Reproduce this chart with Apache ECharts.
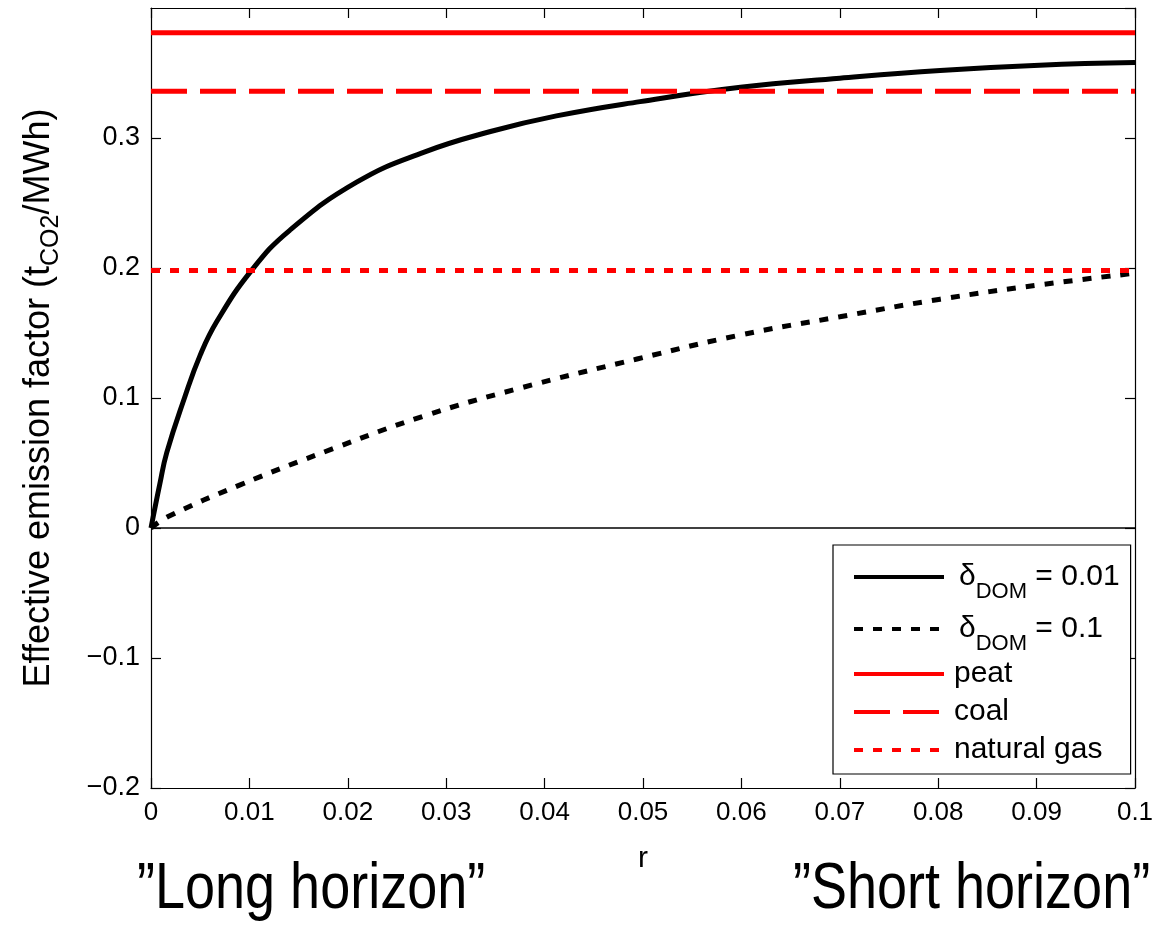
<!DOCTYPE html>
<html>
<head>
<meta charset="utf-8">
<script src="https://cdn.jsdelivr.net/npm/echarts@6/dist/echarts.min.js"></script>
<style>
    html, body {margin: 0; padding: 0; background: #fff;}
    #chart {width: 1169px; height: 932px;}
</style>
</head>
<body>
<div id="chart"></div>
<script>
    // delta_DOM = 0.01 curve
    var rLow = [0, 0.0009, 0.0016, 0.0034, 0.005, 0.0067, 0.0102, 0.0141, 0.0209, 0.0277, 0.0345, 0.0412, 0.0497, 0.0599, 0.0700, 0.0802, 0.0903, 0.1];
    var efLow = [0, 0.034, 0.058, 0.100, 0.133, 0.159, 0.198, 0.229, 0.266, 0.289, 0.305, 0.317, 0.328, 0.339, 0.346, 0.352, 0.356, 0.358];

    // delta_DOM = 0.1 curve
    var rHigh = [0, 0.0018, 0.009, 0.0185, 0.0277, 0.0372, 0.0494, 0.0599, 0.0700, 0.0802, 0.0903, 0.1];
    var efHigh = [0, 0.009, 0.033, 0.061, 0.086, 0.107, 0.130, 0.1485, 0.1625, 0.176, 0.187, 0.196];

    // reference fuels (horizontal lines)
    var fuelNames = ['peat', 'coal', 'natural gas'];
    var fuelFactors = [0.381, 0.336, 0.198];
    var rRange = [0, 0.1];

    var legendLabels = {
        dLow: '{d|\u03b4}{s|DOM}{t| = 0.01}',
        dHigh: '{d|\u03b4}{s|DOM}{t| = 0.1}'
    };

    var FONT = '"Liberation Sans", Arial, Helvetica, sans-serif';
    var RED = '#ff0000';

    function pairs(xs, ys) {
        var out = [];
        for (var i = 0; i < xs.length; i++) {
            out.push([xs[i], ys[i]]);
        }
        return out;
    }

    var myChart = echarts.init(document.getElementById('chart'));

    var fuelDash = ['solid', [36, 13], [9, 10]];
    var series = [
        {
            name: 'dLow', type: 'line', data: pairs(rLow, efLow), symbol: 'none',
            smooth: 0.45,
            lineStyle: {color: '#000', width: 5},
            itemStyle: {color: '#000'},
            markLine: {
                silent: true, symbol: 'none', label: {show: false},
                lineStyle: {color: '#000', width: 1.5, type: 'solid'},
                data: [{yAxis: 0}]
            }
        },
        {
            name: 'dHigh', type: 'line', data: pairs(rHigh, efHigh), symbol: 'none',
            smooth: 0.45,
            lineStyle: {color: '#000', width: 5, type: [9, 10]},
            itemStyle: {color: '#000'}
        }
    ];
    var legendData = [
        {name: 'dLow', lineStyle: {color: '#000', width: 4, type: 'solid'}},
        {name: 'dHigh', lineStyle: {color: '#000', width: 4, type: [9, 10]}}
    ];
    for (var i = 0; i < fuelNames.length; i++) {
        series.push({
            name: fuelNames[i], type: 'line', symbol: 'none',
            data: [[rRange[0], fuelFactors[i]], [rRange[1], fuelFactors[i]]],
            lineStyle: {color: RED, width: 5, type: fuelDash[i]},
            itemStyle: {color: RED}
        });
        legendData.push({name: fuelNames[i], lineStyle: {color: RED, width: 4, type: fuelDash[i]}});
    }

    var axisLine = {show: true, onZero: false, lineStyle: {color: '#000', width: 1.2}};
    var tick = {show: true, inside: true, length: 10, lineStyle: {color: '#000', width: 1.2}};

    var option = {
        animation: false,
        backgroundColor: '#fff',
        grid: {left: 151, right: 34, top: 8, bottom: 144, containLabel: false},
        legend: {
            data: legendData,
            orient: 'vertical',
            left: 833, top: 545,
            padding: [6, 11, 5, 19],
            itemGap: 0,
            itemWidth: 90, itemHeight: 14,
            itemStyle: {opacity: 0},
            backgroundColor: '#fff',
            borderColor: '#000', borderWidth: 1.2, borderRadius: 0,
            formatter: function (name) {
                return legendLabels[name] || name;
            },
            textStyle: {
                fontFamily: FONT, fontSize: 30, color: '#000', lineHeight: 38, padding: [0, 0, 0, 5],
                rich: {
                    d: {fontFamily: FONT, fontSize: 30, color: '#000', lineHeight: 26, padding: [0, 0, 0, 5]},
                    s: {fontFamily: FONT, fontSize: 22, color: '#000', lineHeight: 26, padding: [30, 0, 0, 0]},
                    t: {fontFamily: FONT, fontSize: 30, color: '#000', lineHeight: 26}
                }
            }
        },
        xAxis: [
            {
                type: 'value', min: 0, max: 0.1, interval: 0.01, position: 'bottom',
                name: 'r', nameLocation: 'middle', nameGap: 56,
                nameTextStyle: {fontFamily: FONT, fontSize: 30, color: '#000'},
                axisLine: axisLine, axisTick: tick, splitLine: {show: false},
                axisLabel: {fontFamily: FONT, fontSize: 26, color: '#000', margin: 12}
            },
            {
                type: 'value', min: 0, max: 0.1, interval: 0.01, position: 'top',
                axisLine: axisLine, axisTick: tick, splitLine: {show: false},
                axisLabel: {show: false}
            }
        ],
        yAxis: [
            {
                type: 'value', min: -0.2, max: 0.4, interval: 0.1, position: 'left',
                name: '{m|Effective emission factor (t}{s|CO2}{m|/MWh)}',
                nameLocation: 'middle', nameGap: 96, nameRotate: 90,
                nameTextStyle: {
                    fontFamily: FONT, color: '#000',
                    rich: {
                        m: {fontFamily: FONT, fontSize: 36, color: '#000', lineHeight: 32},
                        s: {fontFamily: FONT, fontSize: 25, color: '#000', lineHeight: 26, padding: [24, 0, 0, 0]}
                    }
                },
                axisLine: axisLine, axisTick: tick, splitLine: {show: false},
                axisLabel: {
                    fontFamily: FONT, fontSize: 27, color: '#000', margin: 11, showMaxLabel: false,
                    formatter: function (v) {
                        if (v > 0.35) return '';
                        var s = (Math.round(Math.abs(v) * 10) / 10).toString();
                        return v < -1e-9 ? '\u2212' + s : s;
                    }
                }
            },
            {
                type: 'value', min: -0.2, max: 0.4, interval: 0.1, position: 'right',
                axisLine: axisLine, axisTick: tick, splitLine: {show: false},
                axisLabel: {show: false}
            }
        ],
        graphic: [
            {
                type: 'text', x: 137, y: 858, scaleY: 1.2,
                style: {text: '\u201dLong horizon\u201d', font: '54px ' + FONT, fill: '#000'}
            },
            {
                type: 'text', x: 793, y: 858, scaleY: 1.2,
                style: {text: '\u201dShort horizon\u201d', font: '54px ' + FONT, fill: '#000'}
            }
        ],
        series: series
    };

    myChart.setOption(option);
</script>
</body>
</html>
